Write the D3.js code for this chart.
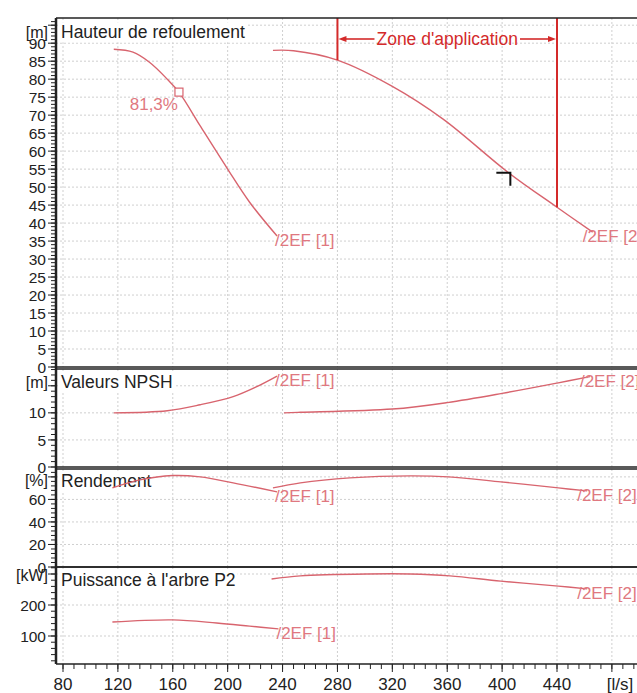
<!DOCTYPE html>
<html>
<head>
<meta charset="utf-8">
<script src="https://cdn.jsdelivr.net/npm/d3@7"></script>
<style>
  body { margin: 0; background: #fff; }
  svg { display: block; font-family: "Liberation Sans", Arial, sans-serif; }
</style>
</head>
<body>
<svg id="chart"></svg>
<script>
// flow axis [l/s]
const flowTicks = [80, 120, 160, 200, 240, 280, 320, 360, 400, 440, 480];
const flowUnit = "[l/s]";

// pump curve [1]
const flowH1 = [117, 131, 143, 156, 164.5, 180, 199.5, 216, 236];
const head1 = [88.3, 87.5, 84.7, 80, 76.4, 67.0, 55.3, 45.8, 36.4];
const flowN1 = [117, 156, 180, 204, 220, 236];
const npsh1 = [10.0, 10.4, 11.5, 13.0, 14.7, 16.8];
const flowE1 = [116, 136, 160, 180, 204, 236];
const eff1 = [70.2, 77.3, 81.2, 80.0, 74.7, 66.7];
const flowP1 = [116, 160, 192, 216, 237];
const power1 = [145, 152, 142, 132, 123];

// pump curve [2]
const flowH2 = [233, 248, 280, 320, 357, 404, 440, 466];
const head2 = [88, 87.9, 85.3, 78, 68.9, 54.2, 44.4, 37.5];
const flowN2 = [241, 253, 320, 360, 400, 440, 464];
const npsh2 = [10.0, 10.1, 10.7, 11.9, 13.6, 15.5, 16.7];
const flowE2 = [233, 253, 289, 333, 361, 399, 441, 462];
const eff2 = [70.2, 74.7, 79.1, 80.9, 80.0, 75.6, 70.2, 67.6];
const flowP2 = [232, 253, 302, 333, 362, 399, 441, 462];
const power2 = [284, 294, 300, 300, 294, 277, 261, 252];

const curveNames = ["/2EF [1]", "/2EF [2]"];
const titles = ["Hauteur de refoulement", "Valeurs NPSH", "Rendement", "Puissance à l'arbre P2"];
const units = ["[m]", "[m]", "[%]", "[kW]"];

// best efficiency point, duty point, application zone
const bepFlow = 164.5, bepHead = 76.4, bepLabel = "81,3%";
const dutyFlow = 406, dutyHead = 54;
const zoneFlow = [280, 440];
const zoneLabel = "Zone d'application";

const W = 637, H = 693;
const left = 56, right = 650;
const curveColor = "#d8646e", labelColor = "#e07880", zoneColor = "#d42a2a";

const svg = d3.select("#chart").attr("width", W).attr("height", H);
svg.append("rect").attr("width", W).attr("height", H).attr("fill", "#fff");

const x = d3.scaleLinear().domain([80, 440]).range([63, 557]);

const panels = [
  { top: 18, bottom: 367, domain: [0, 97], major: 5, minor: 1, lastLabel: 90, textDy: 14, unitDy: 14,
    series: [[flowH1, head1], [flowH2, head2]] },
  { top: 369, bottom: 467, domain: [0, 18.1], major: 5, minor: 1, lastLabel: 10, textDy: 13, unitDy: 13,
    series: [[flowN1, npsh1], [flowN2, npsh2]] },
  { top: 469, bottom: 567, domain: [0, 87], major: 20, minor: 4, lastLabel: 60, textDy: 12, unitDy: 11,
    series: [[flowE1, eff1], [flowE2, eff2]] },
  { top: 567, bottom: 664, domain: [9.7, 322.6], major: 100, minor: 20, lastLabel: 200, textDy: 13, unitDy: 8,
    series: [[flowP1, power1], [flowP2, power2]] }
];

const gGrid = svg.append("g");
const gText = svg.append("g");
const gCurves = svg.append("g");
const gAxis = svg.append("g");

panels.forEach((p, i) => {
  p.y = d3.scaleLinear().domain(p.domain).range([p.bottom, p.top]);
  const majors = d3.range(0, p.domain[1], p.major).filter(v => v >= p.domain[0]);
  const minors = d3.range(0, p.domain[1], p.minor).filter(v => v >= p.domain[0]);

  // grid
  gGrid.selectAll(null).data(flowTicks).join("line")
    .attr("x1", d => x(d)).attr("x2", d => x(d))
    .attr("y1", p.top).attr("y2", p.bottom)
    .attr("stroke", "#cfcfcf").attr("stroke-dasharray", "2,2");
  gGrid.selectAll(null).data(majors.filter(v => v > p.domain[0])).join("line")
    .attr("x1", left).attr("x2", right)
    .attr("y1", d => p.y(d)).attr("y2", d => p.y(d))
    .attr("stroke", "#cfcfcf").attr("stroke-dasharray", "2,2");

  // frame
  gAxis.append("line").attr("x1", left).attr("x2", right)
    .attr("y1", p.top).attr("y2", p.top).attr("stroke", "#222").attr("stroke-width", 1.6);
  gAxis.append("line").attr("x1", left).attr("x2", right)
    .attr("y1", p.bottom).attr("y2", p.bottom).attr("stroke", "#222").attr("stroke-width", 1.6);

  // y ticks
  gAxis.selectAll(null).data(minors).join("line")
    .attr("x1", left - 5).attr("x2", left)
    .attr("y1", d => p.y(d)).attr("y2", d => p.y(d))
    .attr("stroke", "#222");
  gAxis.selectAll(null).data(majors).join("line")
    .attr("x1", left - 8).attr("x2", left)
    .attr("y1", d => p.y(d)).attr("y2", d => p.y(d))
    .attr("stroke", "#222");
  gAxis.selectAll(null).data(majors.filter(v => v <= p.lastLabel)).join("text")
    .attr("x", left - 10).attr("y", d => p.y(d)).attr("dy", "0.36em")
    .attr("text-anchor", "end").attr("font-size", 15.5).attr("fill", "#222")
    .text(d => d);
  gAxis.append("text")
    .attr("x", left - 8).attr("y", p.top + p.unitDy).attr("dy", "0.36em")
    .attr("text-anchor", "end").attr("font-size", 16).attr("fill", "#222")
    .text(units[i]);

  // title
  const t = gText.append("text")
    .attr("x", 61).attr("y", p.top + p.textDy).attr("dy", "0.36em")
    .attr("font-size", 17.5).attr("fill", "#222").text(titles[i]);
  const bb = t.node().getBBox();
  gText.insert("rect", "text").attr("x", bb.x - 2).attr("y", bb.y).attr("width", bb.width + 4)
    .attr("height", bb.height).attr("fill", "#fff");

  // curves and labels
  const line = d3.line().curve(d3.curveCatmullRom.alpha(0.5)).x(d => x(d[0])).y(d => p.y(d[1]));
  p.series.forEach(([fl, vals], k) => {
    const pts = fl.map((f, j) => [f, vals[j]]);
    gCurves.append("path").attr("d", line(pts))
      .attr("fill", "none").attr("stroke", curveColor).attr("stroke-width", 1.4);
    const last = pts[pts.length - 1];
    gCurves.append("text")
      .attr("x", x(last[0]) - (k === 0 ? 2 : 10)).attr("y", p.y(last[1]) + 4).attr("dy", "0.36em")
      .attr("font-size", 17).attr("fill", labelColor).text(curveNames[k]);
  });
});

// left axis line
gAxis.append("line").attr("x1", left).attr("x2", left)
  .attr("y1", 18).attr("y2", 664).attr("stroke", "#222").attr("stroke-width", 2.5);

// x axis
const xMinor = d3.range(80, 500, 8);
gAxis.selectAll(null).data(xMinor).join("line")
  .attr("x1", d => x(d)).attr("x2", d => x(d)).attr("y1", 664).attr("y2", 669)
  .attr("stroke", "#222");
gAxis.selectAll(null).data(flowTicks).join("line")
  .attr("x1", d => x(d)).attr("x2", d => x(d)).attr("y1", 664).attr("y2", 672)
  .attr("stroke", "#222");
gAxis.selectAll(null).data(flowTicks.slice(0, -1)).join("text")
  .attr("x", d => x(d)).attr("y", 690).attr("text-anchor", "middle")
  .attr("font-size", 17).attr("fill", "#222").text(d => d);
gAxis.append("text").attr("x", x(flowTicks[flowTicks.length - 1]) + 8).attr("y", 690)
  .attr("text-anchor", "middle").attr("font-size", 17).attr("fill", "#222").text(flowUnit);

// application zone
const hp = panels[0];
const headAt2 = d3.scaleLinear().domain(flowH2).range(head2);
zoneFlow.forEach(q => {
  gCurves.append("line").attr("x1", x(q)).attr("x2", x(q))
    .attr("y1", hp.top).attr("y2", hp.y(headAt2(q)))
    .attr("stroke", zoneColor).attr("stroke-width", 2);
});
const zy = hp.top + 21;
const zx0 = x(zoneFlow[0]), zx1 = x(zoneFlow[1]);
const zt = gCurves.append("text").attr("x", (zx0 + zx1) / 2).attr("y", zy).attr("dy", "0.36em")
  .attr("text-anchor", "middle").attr("font-size", 17.5).attr("fill", zoneColor).text(zoneLabel);
const zw = zt.node().getComputedTextLength();
const zm = (zx0 + zx1) / 2;
[[zx0 + 6, zm - zw / 2 - 2], [zm + zw / 2 + 2, zx1 - 6]].forEach(s => {
  gCurves.append("line").attr("x1", s[0]).attr("x2", s[1]).attr("y1", zy).attr("y2", zy)
    .attr("stroke", zoneColor).attr("stroke-width", 1.6);
});
gCurves.append("path").attr("fill", zoneColor)
  .attr("d", `M${zx0 + 1},${zy}L${zx0 + 9},${zy - 3}L${zx0 + 9},${zy + 3}Z`);
gCurves.append("path").attr("fill", zoneColor)
  .attr("d", `M${zx1 - 1},${zy}L${zx1 - 9},${zy - 3}L${zx1 - 9},${zy + 3}Z`);

// best efficiency point
const bx = x(bepFlow), by = hp.y(bepHead);
gCurves.append("rect").attr("x", bx - 4).attr("y", by - 4).attr("width", 8).attr("height", 8)
  .attr("fill", "#fff").attr("stroke", curveColor).attr("stroke-width", 1.2);
gCurves.append("text").attr("x", bx - 1).attr("y", by + 18).attr("text-anchor", "end")
  .attr("font-size", 17).attr("fill", labelColor).text(bepLabel);

// duty point
const dx = x(dutyFlow), dy = hp.y(dutyHead);
gCurves.append("path").attr("fill", "none").attr("stroke", "#111").attr("stroke-width", 2)
  .attr("d", `M${dx - 14},${dy}L${dx},${dy}L${dx},${dy + 13}`);
</script>
</body>
</html>
